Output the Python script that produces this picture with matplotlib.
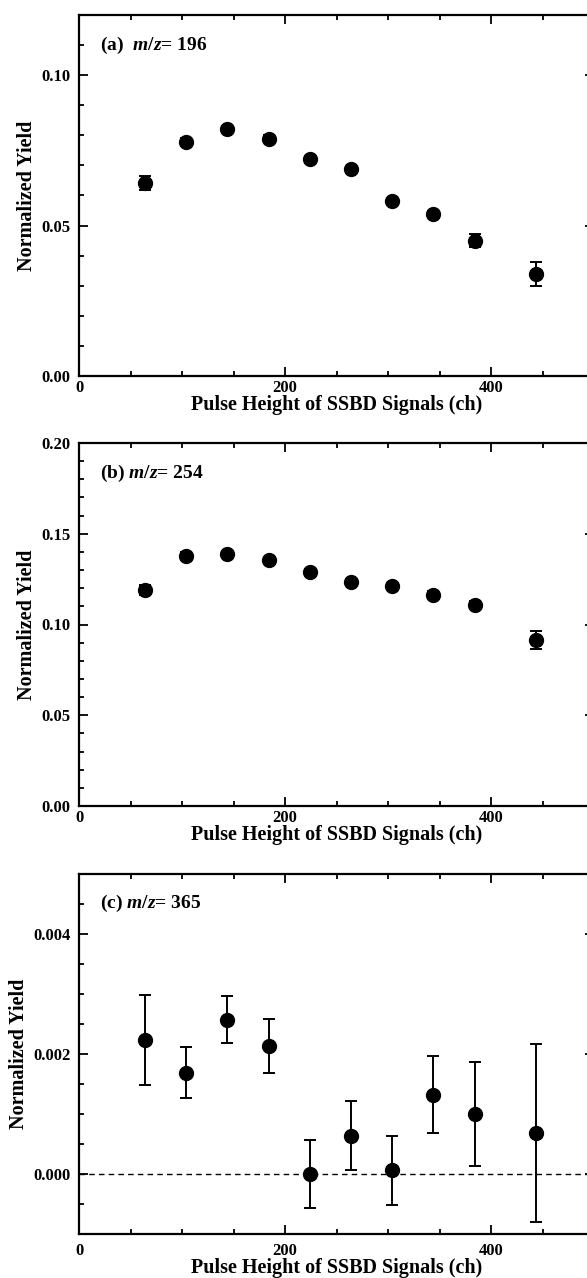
import matplotlib
matplotlib.use("Agg")
import matplotlib.pyplot as plt
from matplotlib.ticker import MultipleLocator, FormatStrFormatter

plt.rcParams['font.family'] = ['Liberation Serif', 'DejaVu Serif']
plt.rcParams['font.weight'] = 'bold'
plt.rcParams['mathtext.fontset'] = 'custom'
plt.rcParams['mathtext.it'] = 'Liberation Serif:italic:bold'
plt.rcParams['mathtext.rm'] = 'Liberation Serif:bold'

# pulse height bin centres (ch)
channels = [64, 104, 144, 184, 224, 264, 304, 344, 384, 444]

# (a) m/z = 196
yield_196 = [0.0641, 0.0778, 0.0822, 0.0789, 0.0720, 0.0687, 0.0581, 0.0539, 0.0450, 0.0338]
err_196 = [0.0024, 0.0012, 0.0010, 0.0011, 0.0012, 0.0012, 0.0010, 0.0011, 0.0021, 0.0040]

# (b) m/z = 254
yield_254 = [0.1190, 0.1378, 0.1386, 0.1355, 0.1288, 0.1235, 0.1213, 0.1165, 0.1108, 0.0915]
err_254 = [0.0030, 0.0020, 0.0015, 0.0018, 0.0018, 0.0016, 0.0016, 0.0018, 0.0022, 0.0051]

# (c) m/z = 365
yield_365 = [0.00224, 0.00169, 0.00257, 0.00213, 0.00000, 0.00064, 0.00006, 0.00132, 0.00100, 0.00068]
err_365 = [0.00075, 0.00043, 0.00039, 0.00045, 0.00056, 0.00058, 0.00058, 0.00064, 0.00086, 0.00148]

panels = [
    (r'(a)  $m$/$z$= 196', yield_196, err_196, (0, 0.12), 0.05, 0.01, '%.2f'),
    (r'(b) $m$/$z$= 254', yield_254, err_254, (0, 0.20), 0.05, 0.01, '%.2f'),
    (r'(c) $m$/$z$= 365', yield_365, err_365, (-0.001, 0.005), 0.002, 0.0005, '%.3f'),
]

W, H = 587, 1278
fig = plt.figure(figsize=(W / 100, H / 100), dpi=100)

# axes boxes in pixels: (top, bottom)
boxes = [(15, 376), (443, 806), (874, 1234)]
left_px, width_px = 79, 515
xtick_pads = [3, 3, 6.5]

for (label, yv, ye, ylim, major, minor, fmt), (top, bot), xpad in zip(panels, boxes, xtick_pads):
    ax = fig.add_axes([left_px / W, 1 - bot / H, width_px / W, (bot - top) / H])
    ax.errorbar(channels, yv, yerr=ye, fmt='o', color='black', markersize=10,
                elinewidth=1.4, capsize=4.5, capthick=1.4)
    if ylim[0] < 0:
        ax.axhline(0, color='black', linestyle=(0, (4, 3)), linewidth=1.0, zorder=0)
    ax.set_xlim(0, 500)
    ax.set_ylim(*ylim)
    ax.xaxis.set_major_locator(MultipleLocator(200))
    ax.xaxis.set_minor_locator(MultipleLocator(50))
    ax.yaxis.set_major_locator(MultipleLocator(major))
    ax.yaxis.set_minor_locator(MultipleLocator(minor))
    ax.yaxis.set_major_formatter(FormatStrFormatter(fmt))
    ax.tick_params(which='both', direction='in', top=True, right=True, width=1.3)
    ax.tick_params(which='major', length=6.5, labelsize=12)
    ax.tick_params(axis='x', which='major', pad=xpad)
    ax.tick_params(axis='y', which='major', pad=6)
    ax.tick_params(which='minor', length=3.5)
    for sp in ax.spines.values():
        sp.set_linewidth(1.6)
    ax.set_xlabel('Pulse Height of SSBD Signals (ch)', fontsize=14.5, fontweight='bold', labelpad=-1)
    ax.set_ylabel('Normalized Yield', fontsize=14.5, fontweight='bold', labelpad=3)
    ax.text(0.04, 0.917, label, transform=ax.transAxes, fontsize=14, fontweight='bold',
            va='center', ha='left')

fig.savefig('out.png', dpi=100)
